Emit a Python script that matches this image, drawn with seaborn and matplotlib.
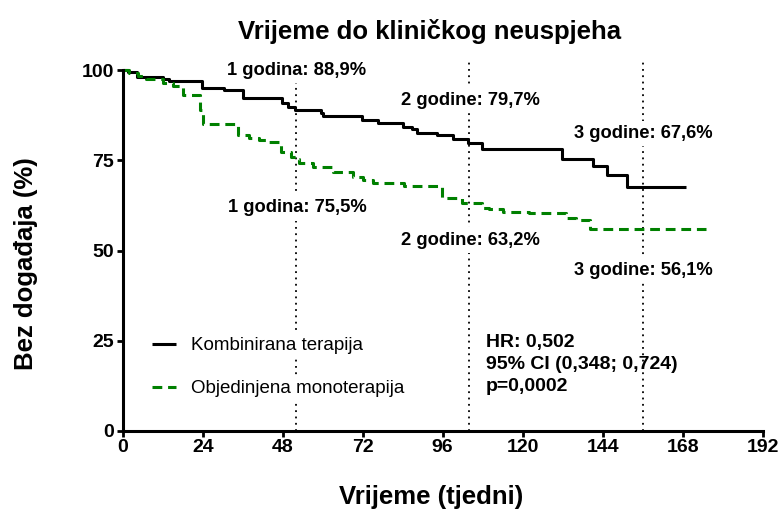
import matplotlib
matplotlib.use('Agg')
import matplotlib.pyplot as plt
import seaborn as sns
import pandas as pd

# Kaplan-Meier step data (weeks, % event-free)
komb_weeks = [0, 1.5, 4.3, 12, 14, 23.8, 30.5, 36, 47.7, 49.5, 51.7, 59.4, 60, 71.7, 76.6,
              84, 86.7, 88.2, 94.2, 99.2, 103.5, 107.7, 131.7, 141.2, 145.2, 151.2, 169]
komb_surv = [100, 99.4, 98.1, 97.5, 96.9, 95.1, 94.6, 92.3, 90.8, 89.8, 88.9, 88.2, 87.3, 86.1, 85.4,
             84.3, 83.6, 82.6, 81.9, 80.8, 79.7, 78.1, 75.3, 73.5, 70.9, 67.6, 67.6]

mono_weeks = [0, 2, 4.5, 7, 12, 15, 18, 23.3, 24, 34.5, 38, 41, 44, 47.5, 50.5, 52, 53, 57, 63,
              69, 72, 75, 84.5, 95.7, 101.7, 107.7, 110, 114, 122, 133, 136, 140.2, 175]
mono_surv = [100, 99.2, 98.4, 97.6, 96.5, 95.5, 93.2, 89.0, 85.2, 82.0, 81.3, 80.6, 80.0, 77.4, 76.0,
             75.5, 74.2, 73.1, 71.7, 70.4, 69.5, 68.7, 67.9, 64.7, 63.2, 61.7, 61.4, 60.6, 60.3, 58.9,
             58.4, 56.1, 56.1]

group_names = ['Kombinirana terapija', 'Objedinjena monoterapija']
marker_weeks = [52, 104, 156]
upper_labels = ['1 godina: 88,9%', '2 godine: 79,7%', '3 godine: 67,6%']
upper_y = [100, 91.7, 82.5]
lower_labels = ['1 godina: 75,5%', '2 godine: 63,2%', '3 godine: 56,1%']
lower_y = [61.8, 52.9, 44.6]
stats_lines = ['HR: 0,502', '95% CI (0,348; 0,724)', 'p=0,0002']
x_ticks = [0, 24, 48, 72, 96, 120, 144, 168, 192]
y_ticks = [0, 25, 50, 75, 100]

df = pd.concat([
    pd.DataFrame({'week': komb_weeks, 'surv': komb_surv, 'group': group_names[0]}),
    pd.DataFrame({'week': mono_weeks, 'surv': mono_surv, 'group': group_names[1]}),
])

sns.set_theme(style='ticks')
plt.rcParams['font.family'] = ['Liberation Sans', 'DejaVu Sans']
plt.rcParams.update({'text.color': 'black', 'axes.edgecolor': 'black', 'axes.labelcolor': 'black',
                     'xtick.color': 'black', 'ytick.color': 'black'})

fig = plt.figure(figsize=(7.83, 5.11), dpi=100)
ax = fig.add_axes([0.1567, 0.1566, 0.8173, 0.7344])

sns.lineplot(data=df, x='week', y='surv', hue='group', style='group',
             palette=['black', '#008000'], dashes=[(1, 0), (3.2, 1.9)],
             drawstyle='steps-post', estimator=None, sort=True, linewidth=2.2, ax=ax)

# dotted year markers
ax.vlines(marker_weeks, 0, 103, colors='black', linestyles=(0, (1, 2.5)), linewidth=1.3, zorder=1)

box = dict(facecolor='white', edgecolor='none', pad=3)
for xw, lab, yy in zip(marker_weeks, upper_labels, upper_y):
    ax.text(xw + 0.3, yy, lab, ha='center', va='center', fontsize=13.2, fontweight='bold', bbox=box, zorder=4)
for xw, lab, yy in zip(marker_weeks, lower_labels, lower_y):
    ax.text(xw + 0.3, yy, lab, ha='center', va='center', fontsize=13.2, fontweight='bold', bbox=box, zorder=4)

for i, line in enumerate(stats_lines):
    ax.text(109, 24.4 - i * 6.0, line, ha='left', va='center', fontsize=14, fontweight='bold', zorder=4)

leg = ax.legend(loc='center left', bbox_to_anchor=(0.046, 0.17), frameon=False, fontsize=13.5,
                handlelength=1.25, handletextpad=0.8, labelspacing=1.38, borderaxespad=0, borderpad=0)
for t in leg.get_texts():
    t.set_bbox(dict(facecolor='white', edgecolor='none', pad=2))

ax.set_xlim(0, 192)
ax.set_ylim(0, 104)
ax.set_xticks(x_ticks)
ax.set_yticks(y_ticks)
ax.spines['top'].set_visible(False)
ax.spines['right'].set_visible(False)
ax.spines['left'].set_bounds(0, 100)
for s in ['left', 'bottom']:
    ax.spines[s].set_linewidth(2.2)
ax.tick_params(width=2, length=4, labelsize=14, pad=2)
for lab in ax.get_xticklabels() + ax.get_yticklabels():
    lab.set_fontweight('bold')
ax.set_xlabel('')
ax.set_ylabel('')

fig.text(0.548, 0.939, 'Vrijeme do kliničkog neuspjeha', ha='center', va='center',
         fontsize=18.5, fontweight='bold')
fig.text(0.55, 0.028, 'Vrijeme (tjedni)', ha='center', va='center', fontsize=18.5, fontweight='bold')
fig.text(0.033, 0.485, 'Bez događaja (%)', ha='center', va='center', rotation=90,
         fontsize=18.5, fontweight='bold')

fig.savefig('out.png', dpi=100)
